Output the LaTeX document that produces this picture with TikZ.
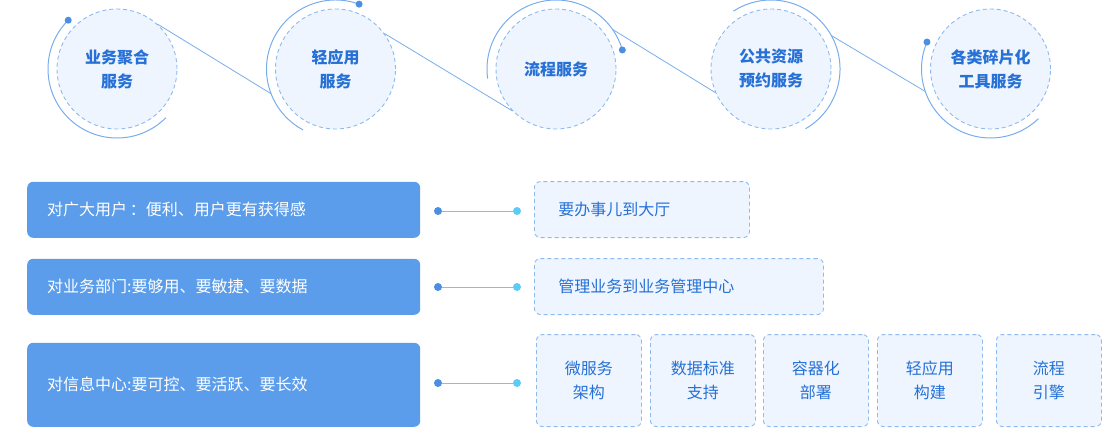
\documentclass[tikz,border=0pt]{standalone}
\usepackage{fontspec}
\newfontfamily\cjk{Noto Sans CJK SC}
\usetikzlibrary{positioning}

\definecolor{boxblue}{HTML}{5B9DEA}
\definecolor{fillblue}{HTML}{EEF5FE}
\definecolor{dashblue}{HTML}{8DBAF0}
\definecolor{ringblue}{HTML}{78ADEB}
\definecolor{textblue}{HTML}{2670D6}
\definecolor{dotblue}{HTML}{4A8FE0}
\definecolor{dotcyan}{HTML}{5CCBF5}
\definecolor{linkblue}{HTML}{82BFF0}

\tikzset{
  service/.style={circle, draw=dashblue, fill=fillblue, line width=0.9pt,
    dash pattern=on 4pt off 3pt, minimum size=120pt, inner sep=0pt,
    align=center, text=textblue,
    font=\cjk\bfseries\fontsize{16}{24}\selectfont},
  ring/.style={circle, minimum size=138pt, inner sep=0pt, outer sep=0pt},
  ringarc/.style={draw=ringblue, line width=1pt},
  ringdot/.style={circle, fill=dotblue, minimum size=7pt, inner sep=0pt},
  audience/.style={rectangle, rounded corners=6pt, fill=boxblue, text=white,
    anchor=south west, align=left, inner xsep=20pt, inner ysep=0pt,
    text width=353pt, font=\cjk\fontsize{16}{24}\selectfont},
  goal/.style={rectangle, rounded corners=6pt, fill=fillblue, draw=dashblue,
    line width=0.9pt, dash pattern=on 4pt off 3pt, text=textblue,
    anchor=south west, inner ysep=0pt, font=\cjk\fontsize{16}{24}\selectfont},
  wide/.style={goal, align=left, inner xsep=24pt},
  tile/.style={goal, align=center, inner sep=0pt, minimum width=105pt,
    minimum height=92pt},
  ldot/.style={circle, fill=dotblue, minimum size=8pt, inner sep=0pt},
  rdot/.style={circle, fill=dotcyan, minimum size=8pt, inner sep=0pt},
  link/.style={draw=linkblue, line width=1pt}
}

\begin{document}
\begin{tikzpicture}[x=1pt, y=1pt]
  \useasboundingbox (0,0) rectangle (1102,429);

  % rings behind the service circles
  \node[ring] (aggring)   at (117,360)   {};
  \node[ring] (lightring) at (335.5,360) {};
  \node[ring] (flowring)  at (556,360)   {};
  \node[ring] (pubring)   at (771,360)   {};
  \node[ring] (toolring)  at (990.5,360) {};

  \node[service] (agg)   at (aggring)   {业务聚合\\服务};
  \node[service] (light) at (lightring) {轻应用\\服务};
  \node[service] (flow)  at (flowring)  {流程服务};
  \node[service] (pub)   at (pubring)   {公共资源\\预约服务};
  \node[service] (tool)  at (toolring)  {各类碎片化\\工具服务};

  \draw[ringarc] (aggring.135) arc[start angle=135, end angle=315, radius=69pt];
  \draw[ringarc] (lightring.70) arc[start angle=70, end angle=242, radius=69pt];
  \draw[ringarc] (flowring.16) arc[start angle=16, end angle=188, radius=69pt];
  \draw[ringarc] (pubring.-60) arc[start angle=-60, end angle=123, radius=69pt];
  \draw[ringarc] (toolring.157) arc[start angle=157, end angle=314, radius=69pt];

  \node[ringdot] at (aggring.135) {};
  \node[ringdot] at (lightring.70) {};
  \node[ringdot] at (flowring.16) {};
  \node[ringdot] at (toolring.157) {};

  \draw[ringarc, line width=0.8pt] (agg.48) -- (lightring.201);
  \draw[ringarc, line width=0.8pt] (light.36) -- (flow.224);
  \draw[ringarc, line width=0.8pt] (flowring.35) -- (pub.203);
  \draw[ringarc, line width=0.8pt] (pubring.29) -- (toolring.199);

  % who it is for
  \node[audience, minimum height=56pt] (userbox) at (27,191)
    {对广大用户\,：便利、用户更有获得感};
  \node[audience, minimum height=56pt] (deptbox) at (27,114)
    {对业务部门:要够用、要敏捷、要数据};
  \node[audience, minimum height=84pt] (infobox) at (27,2)
    {对信息中心:要可控、要活跃、要长效};

  % what they get
  \node[wide, minimum height=56pt, text width=167pt] (hallbox) at (534,191)
    {要办事儿到大厅};
  \node[wide, minimum height=56pt, text width=241pt] (centerbox) at (534,114)
    {管理业务到业务管理中心};
  \node[tile] (micro)     at (536,2) {微服务\\架构};
  \node[tile] (datastd)   at (650,2) {数据标准\\支持};
  \node[tile] (container) at (763,2) {容器化\\部署};
  \node[tile] (lightapp)  at (877,2) {轻应用\\构建};
  \node[tile] (engine)    at (996,2) {流程\\引擎};

  \node[ldot] (userl) at (438,218) {};
  \node[rdot] (userr) at (517,218) {};
  \node[ldot] (deptl) at (438,142) {};
  \node[rdot] (deptr) at (517,142) {};
  \node[ldot] (infol) at (438,46)  {};
  \node[rdot] (infor) at (517,46)  {};
  \draw[link] (userl) -- (userr);
  \draw[link] (deptl) -- (deptr);
  \draw[link] (infol) -- (infor);

\end{tikzpicture}
\end{document}
